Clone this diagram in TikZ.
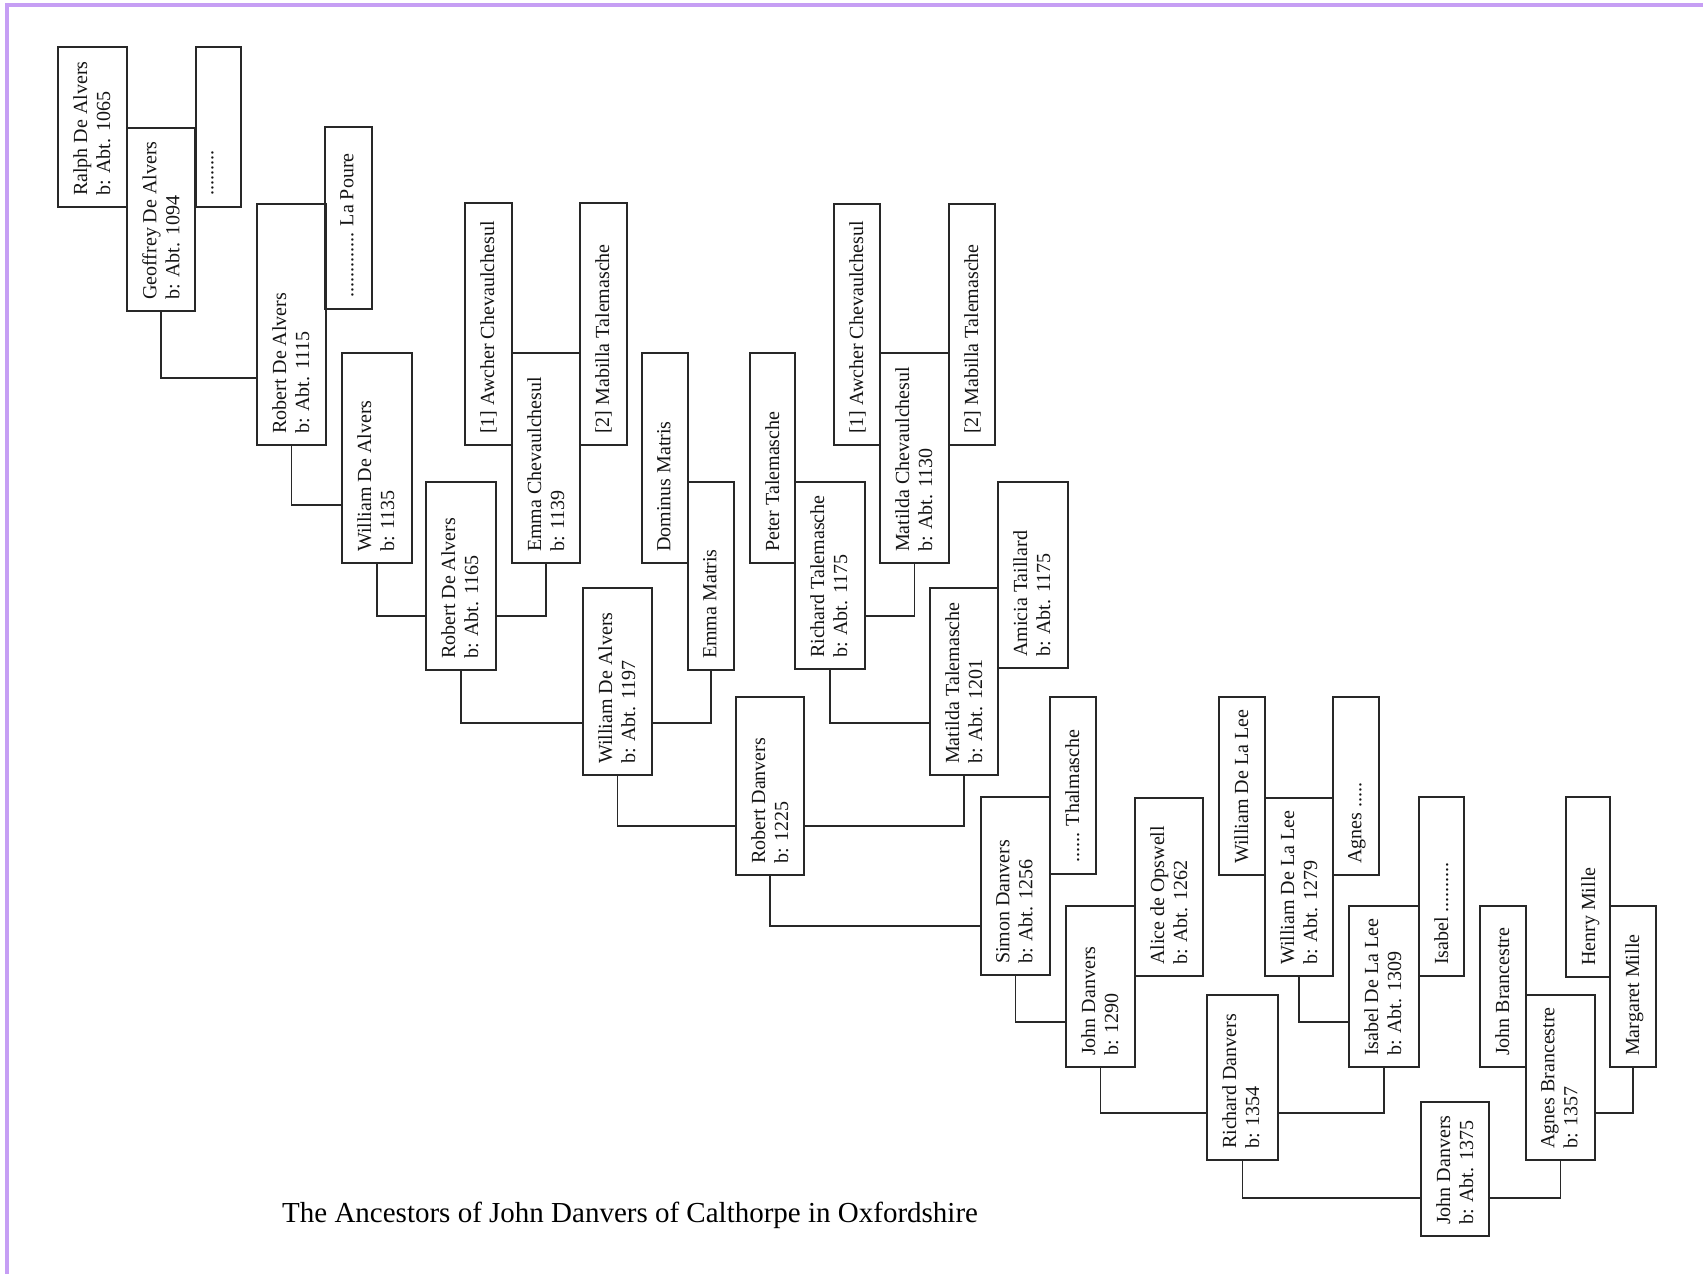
\documentclass[tikz,border=0pt]{standalone}
\usepackage{fontspec}
\setmainfont{Liberation Serif}
\begin{document}
\begin{tikzpicture}[x=1pt,y=-1pt,
  ink/.style={color={rgb,255:red,40;green,40;blue,40}},
  pbox/.style={draw,ink,line width=1.9pt,inner sep=0pt,outer sep=0pt},
  plabel/.style={rotate=90,inner sep=0pt,align=left,text={rgb,255:red,20;green,20;blue,20},
                 font=\fontsize{20}{23}\selectfont},
  link/.style={draw,ink,line width=1.9pt},
  frame/.style={draw,line width=3.2pt,color={rgb,255:red,198;green,158;blue,244}}]

% page extent
\useasboundingbox (0,0) rectangle (1703,1274);

% lavender page frame (top and left edges)
\draw[frame] (7,1274) -- (7,5) -- (1703,5);

% one person: name, left, top, right, bottom, text
\newcommand{\personbox}[6]{%
  \node[pbox,minimum width={(#4-#2)*1pt},minimum height={(#5-#3)*1pt},
        anchor=north west] (#1) at (#2,#3) {};
  \node[plabel,anchor=north west] (#1-t) at ([xshift=15pt,yshift=11pt]#1.south west) {#6};
}

% De Alvers line
\personbox{ralph}{58}{47}{127}{207}{Ralph De Alvers\\b: Abt. 1065}
\personbox{ralphw}{196}{47}{241}{207}{.........}
\personbox{geoffrey}{127}{128}{195}{311}{Geoffrey De Alvers\\b: Abt. 1094}
\personbox{lapoure}{325}{127}{372}{309}{............. La Poure}
\personbox{robertA}{257}{204}{326}{445}{Robert De Alvers\\b: Abt. 1115}
\personbox{williamA}{342}{353}{412}{563}{William De Alvers\\b: 1135}
\personbox{awcherA}{465}{203}{512}{445}{[1] Awcher Chevaulchesul}
\personbox{mabillaA}{580}{203}{627}{445}{[2] Mabilla Talemasche}
\personbox{emmaC}{512}{353}{580}{563}{Emma Chevaulchesul\\b: 1139}
\personbox{robertB}{426}{482}{496}{670}{Robert De Alvers\\b: Abt. 1165}
\personbox{dominus}{642}{353}{688}{563}{Dominus Matris}
\personbox{emmaM}{688}{482}{734}{670}{Emma Matris}
\personbox{williamB}{583}{588}{652}{775}{William De Alvers\\b: Abt. 1197}

% Talemasche line
\personbox{peter}{750}{353}{795}{563}{Peter Talemasche}
\personbox{richardT}{795}{482}{865}{669}{Richard Talemasche\\b: Abt. 1175}
\personbox{awcherB}{834}{204}{880}{445}{[1] Awcher Chevaulchesul}
\personbox{mabillaB}{949}{204}{995}{445}{[2] Mabilla Talemasche}
\personbox{matildaC}{880}{353}{949}{563}{Matilda Chevaulchesul\\b: Abt. 1130}
\personbox{amicia}{998}{482}{1068}{668}{Amicia Taillard\\b: Abt. 1175}
\personbox{matildaT}{930}{588}{998}{775}{Matilda Talemasche\\b: Abt. 1201}

% Danvers line
\personbox{robertD}{736}{697}{804}{875}{Robert Danvers\\b: 1225}
\personbox{thalmasche}{1050}{697}{1096}{874}{...... Thalmasche}
\personbox{simon}{981}{797}{1050}{975}{Simon Danvers\\b: Abt. 1256}
\personbox{alice}{1135}{798}{1203}{976}{Alice de Opswell\\b: Abt. 1262}
\personbox{johnA}{1066}{906}{1135}{1067}{John Danvers\\b: 1290}

% De La Lee line
\personbox{williamL}{1219}{697}{1265}{875}{William De La Lee}
\personbox{agnesL}{1333}{697}{1379}{875}{Agnes .....}
\personbox{williamM}{1265}{798}{1333}{976}{William De La Lee\\b: Abt. 1279}
\personbox{isabelL}{1349}{906}{1419}{1067}{Isabel De La Lee\\b: Abt. 1309}
\personbox{isabelW}{1419}{797}{1464}{976}{Isabel ..........}
\personbox{richardD}{1207}{995}{1278}{1160}{Richard Danvers\\b: 1354}
\personbox{johnB}{1421}{1102}{1489}{1236}{John Danvers\\b: Abt. 1375}

% Brancestre and Mille
\personbox{johnBr}{1480}{906}{1526}{1067}{John Brancestre}
\personbox{agnesBr}{1526}{995}{1595}{1160}{Agnes Brancestre\\b: 1357}
\personbox{henry}{1566}{797}{1610}{977}{Henry Mille}
\personbox{margaret}{1610}{906}{1656}{1067}{Margaret Mille}

% parent-to-child connectors
\draw[link] (geoffrey.south) |- ([yshift=67pt]robertA.south west);
\draw[link] (robertA.south)  |- ([yshift=58pt]williamA.south west);
\draw[link] (williamA.south) |- ([yshift=54pt]robertB.south west);
\draw[link] (emmaC.south)    |- ([yshift=54pt]robertB.south east);
\draw[link] (robertB.south)  |- ([yshift=52pt]williamB.south west);
\draw[link] (emmaM.south)    |- ([yshift=52pt]williamB.south east);
\draw[link] (williamB.south) |- ([yshift=49pt]robertD.south west);
\draw[link] (matildaC.south) |- ([yshift=53pt]richardT.south east);
\draw[link] (richardT.south) |- ([yshift=52pt]matildaT.south west);
\draw[link] (matildaT.south) |- ([yshift=49pt]robertD.south east);
\draw[link] (robertD.south)  |- ([yshift=49pt]simon.south west);
\draw[link] (simon.south)    |- ([yshift=45pt]johnA.south west);
\draw[link] (johnA.south)    |- ([yshift=47pt]richardD.south west);
\draw[link] (williamM.south) |- ([yshift=45pt]isabelL.south west);
\draw[link] (isabelL.south)  |- ([yshift=47pt]richardD.south east);
\draw[link] (richardD.south) |- ([yshift=38pt]johnB.south west);
\draw[link] (agnesBr.south)  |- ([yshift=38pt]johnB.south east);
\draw[link] (margaret.south) |- ([yshift=47pt]agnesBr.south east);

% caption
\node[anchor=base west,inner sep=0pt,font=\fontsize{29}{34}\selectfont] (title)
  at (282,1222) {The Ancestors of John Danvers of Calthorpe in Oxfordshire};
\end{tikzpicture}
\end{document}
